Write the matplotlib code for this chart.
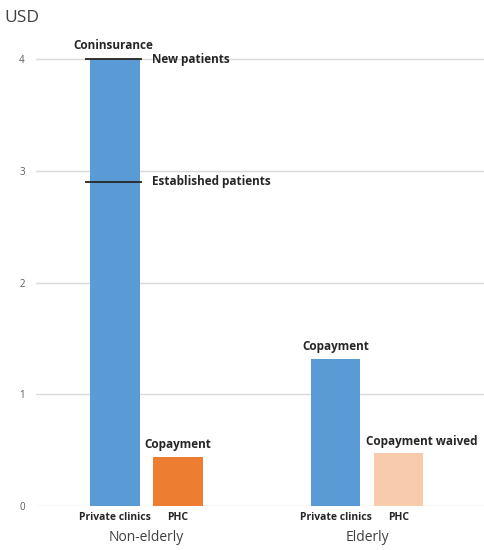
import matplotlib.pyplot as plt
from matplotlib.transforms import blended_transform_factory

# data
groups = ['Non-elderly', 'Elderly']
bar_labels = ['Private clinics', 'PHC', 'Private clinics', 'PHC']
values = [4.0, 0.44, 1.315, 0.47]
colors = ['#5B9BD5', '#ED7D31', '#5B9BD5', '#F8CBAD']
positions = [0, 1, 3.5, 4.5]
group_pos = [0.5, 4.0]
notes = ['', 'Copayment', 'Copayment', 'Copayment waived']
note_shift = [0, 0, 0, 0.36]
new_patients = 4.0
established = 2.9

plt.rcParams['font.family'] = ['Open Sans', 'DejaVu Sans']

fig = plt.figure(figsize=(4.85, 5.5), dpi=100)
ax = fig.add_axes([0.074, 0.08, 0.926, 0.8736])

ax.bar(positions, values, width=0.78, color=colors, zorder=2)
ax.set_ylim(0, 4.3)
ax.set_xlim(-1.254, 5.87)

ax.set_yticks([0, 1, 2, 3, 4])
ax.grid(axis='y', color='#D9D9D9', linewidth=1, zorder=0)
for s in ax.spines.values():
    s.set_visible(False)
ax.tick_params(axis='y', length=0, labelsize=7, labelcolor='#595959', pad=8)

ax.set_xticks(positions)
ax.set_xticklabels(bar_labels, fontsize=7.5, fontweight='bold', color='#262626')
ax.tick_params(axis='x', length=0, pad=4)

trans = blended_transform_factory(ax.transData, ax.transAxes)
for g, gp in zip(groups, group_pos):
    ax.text(gp, -0.066, g, transform=trans, ha='center', va='center',
            fontsize=10, color='#404040')

# coinsurance markers
for yv in [new_patients, established]:
    ax.hlines(yv, positions[0] - 0.48, positions[0] + 0.43, color='#262626',
              linewidth=1.3, zorder=3)
ax.text(positions[0] + 0.58, new_patients, 'New patients', ha='left', va='center',
        fontsize=8.5, fontweight='bold', color='#262626')
ax.text(positions[0] + 0.58, established, 'Established patients', ha='left',
        va='center', fontsize=8.5, fontweight='bold', color='#262626')
ax.text(positions[0] - 0.03, new_patients + 0.06, 'Coninsurance', ha='center',
        va='bottom', fontsize=8.5, fontweight='bold', color='#262626')

for p, v, n, sh in zip(positions, values, notes, note_shift):
    if n:
        ax.text(p + sh, v + 0.05, n, ha='center', va='bottom', fontsize=8.5,
                fontweight='bold', color='#262626')

fig.text(0.01, 0.967, 'USD', ha='left', va='center', fontsize=12.5, color='#404040')

fig.savefig('out.png', dpi=100)
